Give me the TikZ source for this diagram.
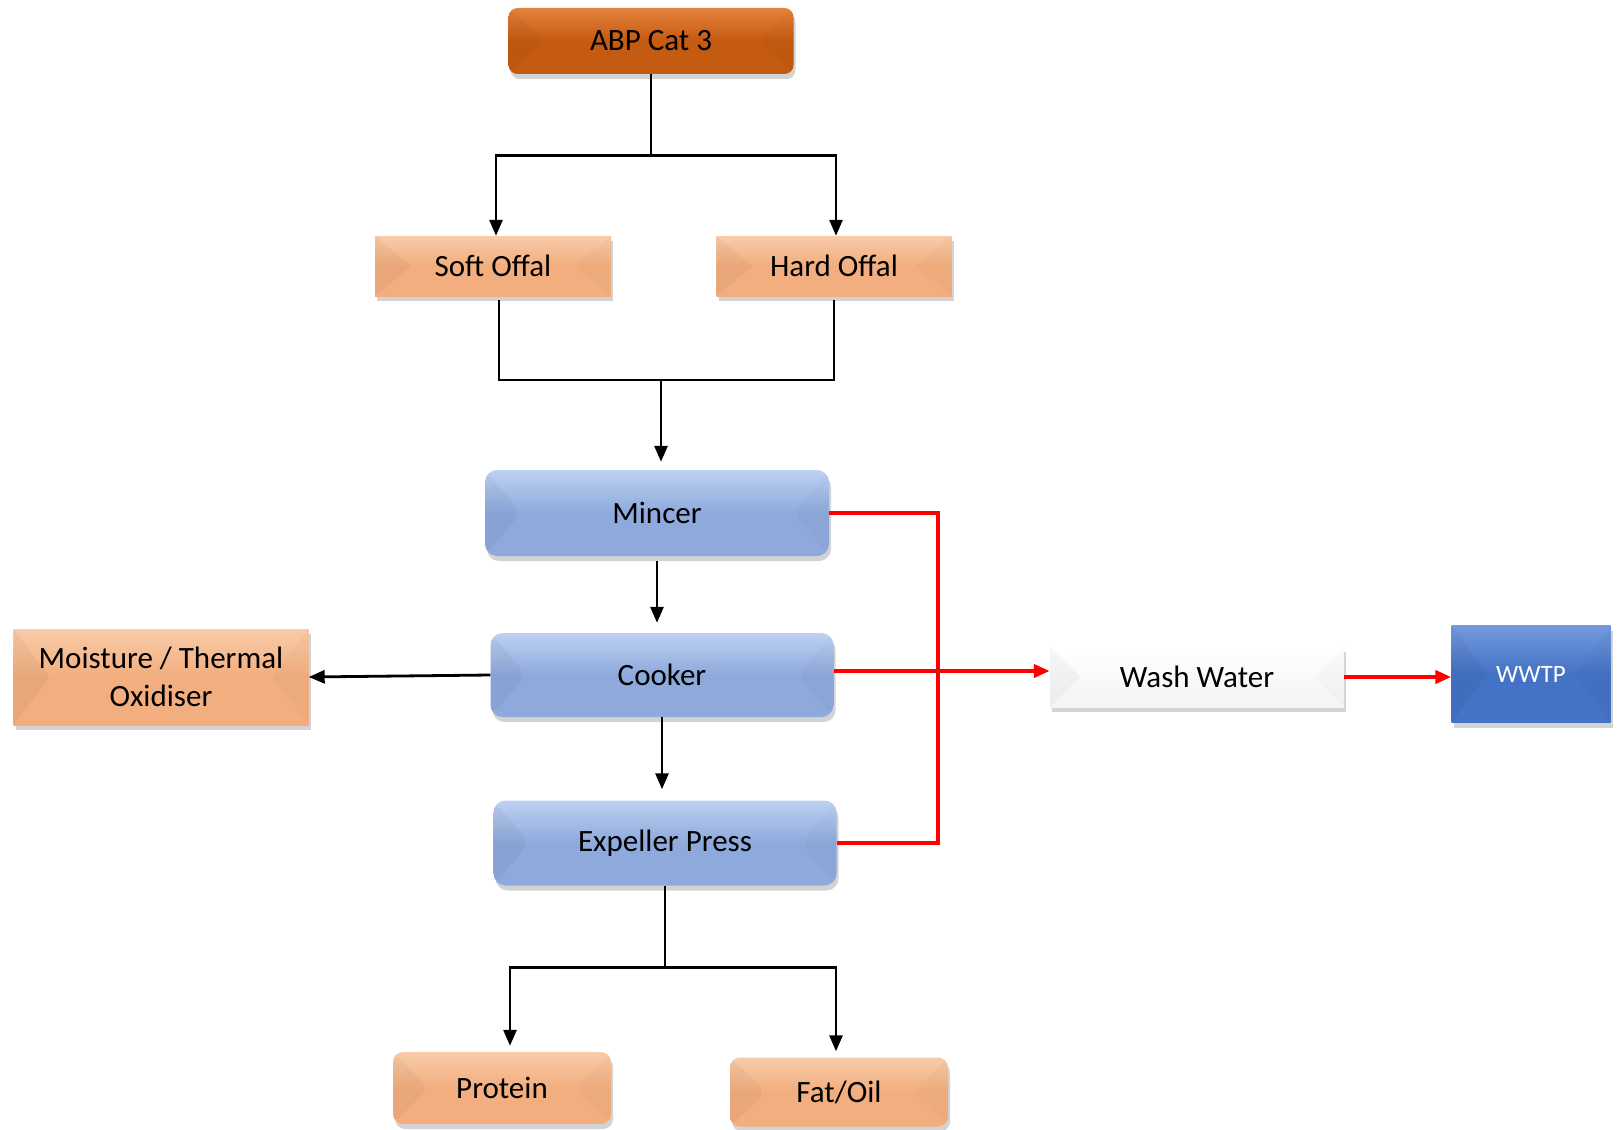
\documentclass[tikz,border=0pt]{standalone}
\usepackage{fontspec}
\setmainfont{Carlito}
\usetikzlibrary{arrows.meta,shadows}

\definecolor{abpfill}{HTML}{C55A11}
\definecolor{abplight}{HTML}{E5823C}
\definecolor{peach}{HTML}{F2AE7E}
\definecolor{peachlight}{HTML}{F8CBA9}
\definecolor{steel}{HTML}{8EA9DB}
\definecolor{steellight}{HTML}{BDD1F2}
\definecolor{wwtpblue}{HTML}{4472C4}
\definecolor{wwtplight}{HTML}{7399DE}
\definecolor{washgrey}{HTML}{F4F4F4}

\tikzset{
  bevel/.style={path picture={
    \fill[black,opacity=0.035] (path picture bounding box.north west)
      -- ([xshift=#1]path picture bounding box.west)
      -- (path picture bounding box.south west) -- cycle;
    \fill[black,opacity=0.02] (path picture bounding box.north east)
      -- ([xshift=-#1]path picture bounding box.east)
      -- (path picture bounding box.south east) -- cycle;
  }},
  bevel/.default=36pt,
  box/.style={inner sep=0pt, align=center, bevel,
    font=\fontsize{31}{38}\selectfont,
    drop shadow={shadow xshift=2pt, shadow yshift=-5pt, opacity=0.35}},
  abpbox/.style={box, rounded corners=9pt, top color=abplight, bottom color=abpfill, middle color=abpfill},
  offal/.style={box, top color=peachlight, bottom color=peach, middle color=peach},
  product/.style={offal, rounded corners=10pt},
  stage/.style={box, rounded corners=12pt, top color=steellight, bottom color=steel, middle color=steel},
}

\begin{document}
\begin{tikzpicture}[x=1pt, y=-1pt,
  flow/.style={line width=2.8pt},
  arr/.style={flow, -{Triangle[length=16pt,width=13pt]}},
  wet/.style={line width=4pt, red},
  wetarr/.style={wet, -{Triangle[length=16pt,width=13pt]}}]
\useasboundingbox (0,0) rectangle (1621,1129);

\node [abpbox, minimum width=285pt, minimum height=66pt] (abp) at (651,41) {ABP Cat 3};
\node [offal, minimum width=236pt, minimum height=60pt] (soft) at (493,266) {Soft Offal};
\node [offal, minimum width=235pt, minimum height=60pt] (hard) at (834,266) {Hard Offal};
\node [stage, minimum width=344pt, minimum height=86pt] (mincer) at (657,513) {Mincer};
\node [stage, minimum width=343pt, minimum height=84pt] (cooker) at (662,675) {Cooker};
\node [stage, minimum width=343pt, minimum height=85pt] (press) at (665,843) {Expeller Press};
\node [offal, minimum width=295pt, minimum height=96pt] (moist) at (161,677) {Moisture / Thermal\\Oxidiser};
\node [box, top color=white, bottom color=washgrey, bevel=30pt, minimum width=294pt, minimum height=60pt] (wash) at (1197,677) {Wash Water};
\node [box, top color=wwtplight, bottom color=wwtpblue, middle color=wwtpblue, text=white,
       font=\fontsize{25}{29}\selectfont, minimum width=159pt, minimum height=97pt] (wwtp) at (1531,674) {WWTP};
\node [product, minimum width=218pt, minimum height=72pt] (protein) at (502,1088) {Protein};
\node [product, minimum width=218pt, minimum height=69pt] (fat) at (839,1092) {Fat/Oil};

%%%%%%%%%%%%%%%%%%%%%%%%%%%%%%%%%%%%%%%%

\draw [flow] (abp.south) -- ++(0,81) coordinate (split);
\draw [arr] (split) -| ([xshift=3pt]soft.north);
\draw [arr] (split) -| ([xshift=2pt]hard.north);

\draw [flow] ([xshift=6pt, yshift=-4pt]soft.south) |- (661,380) coordinate (merge);
\draw [flow] ([yshift=-4pt]hard.south) |- (merge);
\draw [arr, shorten >=8pt] (merge) -- (merge |- mincer.north);

\draw [arr, shorten <=5pt, shorten >=10pt] (mincer.south) -- (mincer.south |- cooker.north);
\draw [arr, shorten >=11pt] (cooker.south) -- (cooker.south |- press.north);
\draw [arr] (cooker.west) -- (moist.east);

\draw [flow] (press.south) -- ++(0,82) coordinate (psplit);
\draw [arr, shorten >=6pt] (psplit) -| ([xshift=8pt]protein.north);
\draw [arr, shorten >=6pt] (psplit) -| ([xshift=-3pt]fat.north);

%%%%%%%%%%%%%%%%%%%%%%%%%%%%%%%%%%%%%%%%

\path (938,0) coordinate (drain);
\draw [wet] (mincer.east) -- (mincer.east -| drain) |- (press.east);
\draw [wetarr] ([yshift=4pt]cooker.east) -- ([yshift=4pt]cooker.east -| wash.west);
\draw [wetarr] (wash.east) -- (wash.east -| wwtp.west);
\end{tikzpicture}
\end{document}
